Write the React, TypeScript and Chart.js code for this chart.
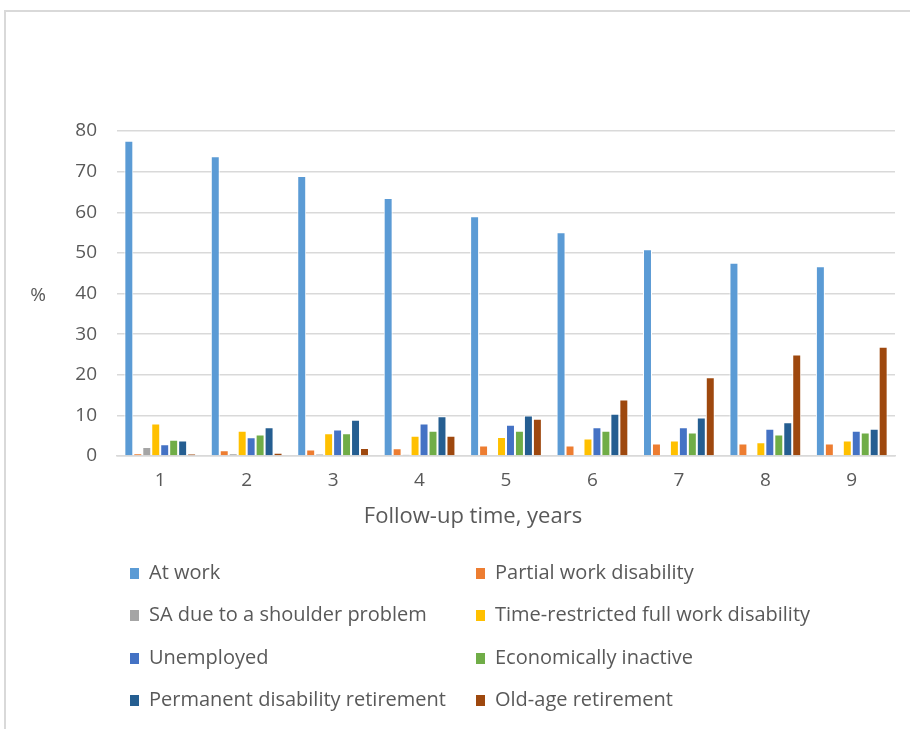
import React, { useEffect, useRef } from "react";
import { Chart, registerables } from "chart.js";

Chart.register(...registerables);

const categories = ["1", "2", "3", "4", "5", "6", "7", "8", "9"];
const atWork = [77.6, 73.8, 68.9, 63.5, 59.0, 55.1, 50.9, 47.6, 46.7];
const partialWorkDisability = [0.7, 1.4, 1.6, 1.9, 2.6, 2.6, 3.1, 3.1, 3.1];
const saShoulder = [2.2, 0.7, 0.5, 0.4, 0, 0, 0, 0, 0];
const timeRestricted = [8.0, 6.2, 5.6, 5.0, 4.7, 4.3, 3.8, 3.4, 3.8];
const unemployed = [2.9, 4.6, 6.5, 8.0, 7.7, 7.1, 7.1, 6.7, 6.2];
const economicallyInactive = [4.0, 5.3, 5.6, 6.2, 6.2, 6.2, 5.8, 5.3, 5.8];
const permanentDisability = [3.8, 7.1, 8.9, 9.8, 10.0, 10.4, 9.5, 8.3, 6.7];
const oldAgeRetirement = [0.5, 0.8, 2.0, 5.0, 9.2, 13.9, 19.4, 25.0, 26.9];

const seriesLabels = [
  "At work",
  "Partial work disability",
  "SA due to a shoulder problem",
  "Time-restricted full work disability",
  "Unemployed",
  "Economically inactive",
  "Permanent disability retirement",
  "Old-age retirement",
];
const seriesColors = [
  "#5B9BD5",
  "#ED7D31",
  "#A5A5A5",
  "#FFC000",
  "#4472C4",
  "#70AD47",
  "#255E91",
  "#9E480E",
];
const seriesValues = [
  atWork,
  partialWorkDisability,
  saShoulder,
  timeRestricted,
  unemployed,
  economicallyInactive,
  permanentDisability,
  oldAgeRetirement,
];

const yAxisLabel = "%";
const xAxisTitle = "Follow-up time, years";
const FONT = "'Open Sans', 'Liberation Sans', sans-serif";
const TEXT = "#595959";
const GRID = "#d9d9d9";

const legendPlugin = {
  id: "twoColLegend",
  afterDraw(chart: any) {
    const ctx = chart.ctx;
    const ds = chart.data.datasets;
    const colX = [130, 476];
    const rowY = [573, 615, 658, 700];
    ctx.save();
    ctx.font = `20px ${FONT}`;
    ctx.textBaseline = "middle";
    ctx.textAlign = "left";
    ds.forEach((d: any, i: number) => {
      const x = colX[i % 2];
      const y = rowY[Math.floor(i / 2)];
      ctx.fillStyle = d.backgroundColor;
      ctx.fillRect(x, y - 5, 9, 11);
      ctx.fillStyle = TEXT;
      ctx.fillText(d.label, x + 19, y);
    });
    // y axis unit label (horizontal)
    ctx.fillStyle = TEXT;
    ctx.font = `19px ${FONT}`;
    ctx.textAlign = "center";
    ctx.fillText(yAxisLabel, 38, (chart.chartArea.top + chart.chartArea.bottom) / 2 + 2);
    // x axis title (placed left of plot centre, as in the original)
    ctx.font = `22px ${FONT}`;
    ctx.fillText(xAxisTitle, 473, chart.chartArea.bottom + 61);
    ctx.restore();
  },
};

export default function App() {
  const ref = useRef<HTMLCanvasElement>(null);
  useEffect(() => {
    if (!ref.current) return;
    const chart = new Chart(ref.current, {
      type: "bar",
      data: {
        labels: categories,
        datasets: seriesLabels.map((label, i) => ({
          label,
          data: seriesValues[i],
          backgroundColor: seriesColors[i],
          borderColor: "#ffffff",
          borderWidth: 1,
          barPercentage: 1,
          categoryPercentage: 0.83,
        })),
      },
      options: {
        animation: false,
        responsive: false,
        devicePixelRatio: 1,
        layout: { padding: { left: 60, right: 15, top: 131, bottom: 196 } },
        plugins: {
          legend: { display: false },
          tooltip: { enabled: false },
        },
        scales: {
          x: {
            grid: { display: false, drawTicks: false },
            border: { display: true, color: GRID, width: 1.5 },
            ticks: { color: TEXT, font: { family: FONT, size: 19 }, padding: 13 },
            afterFit(scale: any) {
              scale.height = 77;
            },
          },
          y: {
            min: 0,
            max: 80,
            ticks: { stepSize: 10, color: TEXT, font: { family: FONT, size: 19 }, padding: 20 },
            grid: { color: GRID, lineWidth: 1.5, drawTicks: false },
            border: { display: false },
            afterFit(scale: any) {
              scale.width = 57;
            },
          },
        },
      },
      plugins: [legendPlugin],
    });
    return () => chart.destroy();
  }, []);

  return (
    <div style={{ position: "fixed", left: 0, top: 0, width: 910, height: 729, background: "#fff", overflow: "hidden" }}>
      <div
        style={{
          position: "absolute",
          left: 4,
          top: 10,
          width: 1000,
          height: 1000,
          borderLeft: `2px solid ${GRID}`,
          borderTop: `2px solid ${GRID}`,
        }}
      />
      <canvas ref={ref} width={910} height={729} style={{ position: "absolute", left: 0, top: 0, display: "block" }} />
    </div>
  );
}
